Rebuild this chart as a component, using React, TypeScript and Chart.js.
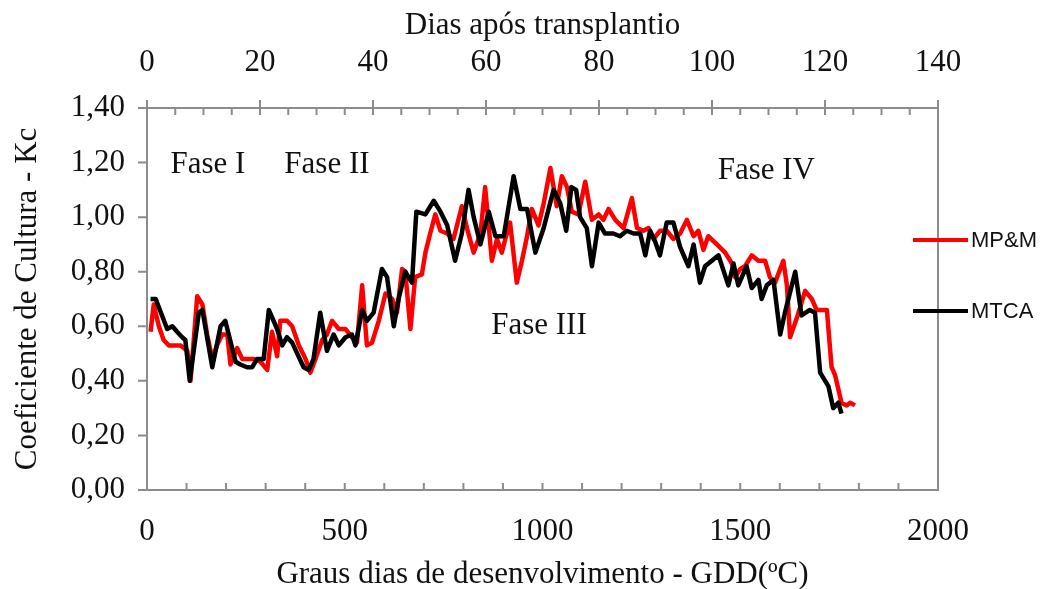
import React, { useEffect, useRef } from 'react';
import { Chart, registerables } from 'chart.js';

Chart.register(...registerables);

// ---- Data ----
const seriesNames = ['MP&M', 'MTCA'];

const mpmGdd = [
  9, 17, 30, 42, 55, 85, 102, 110, 127, 140,
  152, 165, 177, 190, 203, 211, 228, 241, 253, 270,
  287, 304, 316, 329, 337, 354, 367, 384, 401, 413,
  426, 443, 455, 468, 485, 502, 518, 531, 544, 556,
  569, 586, 603, 620, 632, 645, 653, 666, 678, 695,
  704, 716, 729, 742, 759, 775, 796, 809, 826, 843,
  855, 872, 885, 897, 906, 918, 935, 948, 961, 973,
  990, 1003, 1020, 1036, 1049, 1062, 1074, 1091, 1108, 1125,
  1142, 1154, 1167, 1184, 1205, 1226, 1239, 1255, 1268, 1281,
  1297, 1314, 1331, 1348, 1365, 1382, 1394, 1407, 1419, 1441,
  1462, 1479, 1487, 1500, 1512, 1529, 1546, 1563, 1575, 1588,
  1609, 1618, 1626, 1643, 1664, 1681, 1693, 1719, 1731, 1740,
  1756, 1769, 1778, 1790,
];
const mpmKc = [
  0.58, 0.68, 0.60, 0.55, 0.53, 0.53, 0.51, 0.40, 0.71, 0.68,
  0.57, 0.48, 0.53, 0.57, 0.57, 0.46, 0.52, 0.48, 0.48, 0.48,
  0.47, 0.44, 0.58, 0.49, 0.62, 0.62, 0.60, 0.53, 0.48, 0.43,
  0.48, 0.55, 0.57, 0.62, 0.59, 0.59, 0.56, 0.54, 0.75, 0.53,
  0.54, 0.62, 0.72, 0.70, 0.65, 0.81, 0.80, 0.59, 0.78, 0.79,
  0.87, 0.94, 1.01, 0.95, 0.94, 0.92, 1.04, 0.96, 0.87, 0.94,
  1.11, 0.84, 0.92, 0.87, 0.92, 0.98, 0.76, 0.84, 0.93, 1.03,
  0.97, 1.05, 1.18, 1.04, 1.15, 1.11, 1.02, 1.01, 1.13, 0.99,
  1.01, 0.99, 1.03, 0.99, 0.96, 1.07, 0.96, 0.95, 0.96, 0.92,
  0.95, 0.95, 0.92, 0.94, 0.99, 0.93, 0.95, 0.88, 0.93, 0.90,
  0.87, 0.83, 0.78, 0.81, 0.82, 0.86, 0.84, 0.84, 0.78, 0.76,
  0.84, 0.75, 0.56, 0.63, 0.73, 0.70, 0.66, 0.66, 0.45, 0.42,
  0.32, 0.31, 0.32, 0.31,
];

const mtcaGdd = [
  9, 22, 51, 64, 76, 89, 97, 108, 131, 140,
  165, 186, 198, 224, 236, 253, 266, 278, 295, 308,
  329, 342, 354, 367, 396, 409, 421, 438, 455, 472,
  485, 502, 518, 527, 544, 556, 573, 594, 607, 624,
  636, 653, 670, 681, 704, 725, 742, 759, 779, 796,
  813, 826, 843, 864, 881, 902, 927, 944, 961, 982,
  1003, 1028, 1045, 1060, 1073, 1085, 1095, 1112, 1125, 1142,
  1158, 1179, 1196, 1213, 1230, 1247, 1260, 1272, 1285, 1297,
  1314, 1331, 1348, 1369, 1382, 1398, 1411, 1428, 1445, 1470,
  1483, 1495, 1516, 1529, 1546, 1554, 1567, 1584, 1601, 1613,
  1639, 1655, 1676, 1689, 1702, 1723, 1735, 1748, 1756,
];
const mtcaKc = [
  0.70, 0.70, 0.59, 0.60, 0.58, 0.56, 0.55, 0.40, 0.65, 0.66,
  0.45, 0.60, 0.62, 0.47, 0.46, 0.45, 0.45, 0.48, 0.48, 0.66,
  0.59, 0.53, 0.56, 0.54, 0.45, 0.44, 0.48, 0.65, 0.51, 0.57,
  0.53, 0.56, 0.57, 0.53, 0.66, 0.62, 0.65, 0.81, 0.78, 0.60,
  0.70, 0.80, 0.76, 1.02, 1.01, 1.06, 1.02, 0.97, 0.84, 0.94,
  1.10, 1.00, 0.90, 1.02, 0.93, 0.93, 1.15, 1.03, 1.03, 0.87,
  0.96, 1.10, 1.05, 0.95, 1.11, 1.10, 1.00, 0.96, 0.82, 0.98,
  0.94, 0.94, 0.93, 0.95, 0.94, 0.94, 0.86, 0.95, 0.91, 0.86,
  0.98, 0.98, 0.89, 0.82, 0.90, 0.76, 0.82, 0.84, 0.86, 0.75,
  0.83, 0.75, 0.82, 0.74, 0.77, 0.70, 0.75, 0.77, 0.57, 0.65,
  0.80, 0.64, 0.66, 0.65, 0.43, 0.38, 0.30, 0.32, 0.28,
];

const phaseLabels = ['Fase I', 'Fase II', 'Fase III', 'Fase IV'];
const phaseGdd = [154, 455, 991, 1566];
const phaseKc = [1.19, 1.19, 0.60, 1.17];

const xTitle = 'Graus dias de desenvolvimento - GDD(ºC)';
const x2Title = 'Dias após transplantio';
const yTitle = 'Coeficiente de Cultura - Kc';

// ---- Styles ----
const SERIF = "'Liberation Serif', 'Times New Roman', serif";
const SANS = "'Liberation Sans', Arial, sans-serif";
const RED = '#ff0000';
const BLACK = '#000000';
const AXIS = '#8c8c8c';
const TEXT = '#111111';

const decorPlugin = {
  id: 'decor',
  beforeDatasetsDraw(chart: any) {
    const { ctx, chartArea: a, scales } = chart;
    const xs = scales.x;
    const xt = scales.x2;
    const ys = scales.y;
    ctx.save();
    ctx.strokeStyle = AXIS;
    ctx.lineWidth = 2;
    ctx.beginPath();
    ctx.rect(a.left, a.top, a.right - a.left, a.bottom - a.top);
    for (let v = 0; v <= 2000; v += 100) {
      const px = xs.getPixelForValue(v);
      ctx.moveTo(px, a.bottom);
      ctx.lineTo(px, a.bottom - 7);
    }
    for (let d = 0; d <= 140; d += 5) {
      const px = xt.getPixelForValue(d);
      const major = d % 20 === 0;
      ctx.moveTo(px, major ? a.top - 8 : a.top);
      ctx.lineTo(px, a.top + 7);
    }
    for (let k = 0; k <= 7; k++) {
      const py = ys.getPixelForValue(k * 0.2);
      ctx.moveTo(a.left - 9, py);
      ctx.lineTo(a.left, py);
    }
    ctx.stroke();
    ctx.restore();
  },
  afterDraw(chart: any) {
    const { ctx, chartArea: a, scales } = chart;
    const xs = scales.x;
    const ys = scales.y;
    ctx.save();
    // phase labels
    ctx.fillStyle = TEXT;
    ctx.font = `31px ${SERIF}`;
    ctx.textAlign = 'center';
    ctx.textBaseline = 'middle';
    phaseLabels.forEach((t, i) => {
      ctx.fillText(t, xs.getPixelForValue(phaseGdd[i]), ys.getPixelForValue(phaseKc[i]));
    });
    // legend
    const ds = chart.data.datasets;
    const legendY = [240, 311];
    ds.forEach((d: any) => {
      const idx = seriesNames.indexOf(d.label);
      const y = legendY[idx];
      ctx.strokeStyle = d.borderColor;
      ctx.lineWidth = 4;
      ctx.beginPath();
      ctx.moveTo(a.right - 25, y);
      ctx.lineTo(a.right + 30, y);
      ctx.stroke();
      ctx.fillStyle = TEXT;
      ctx.font = `22px ${SANS}`;
      ctx.textAlign = 'left';
      ctx.textBaseline = 'middle';
      ctx.fillText(d.label, a.right + 33, y + 1);
    });
    ctx.restore();
  },
};

export default function App() {
  const ref = useRef<HTMLCanvasElement>(null);
  useEffect(() => {
    const toPts = (xs: number[], ys: number[]) => xs.map((x, i) => ({ x, y: ys[i] }));
    const chart = new Chart(ref.current as HTMLCanvasElement, {
      type: 'line',
      data: {
        datasets: [
          {
            label: seriesNames[0],
            data: toPts(mpmGdd, mpmKc),
            borderColor: RED,
            backgroundColor: RED,
            borderWidth: 4.5,
            pointRadius: 0,
            tension: 0,
            borderJoinStyle: 'round',
            xAxisID: 'x',
            yAxisID: 'y',
            order: 2,
          },
          {
            label: seriesNames[1],
            data: toPts(mtcaGdd, mtcaKc),
            borderColor: BLACK,
            backgroundColor: BLACK,
            borderWidth: 4.5,
            pointRadius: 0,
            tension: 0,
            borderJoinStyle: 'round',
            xAxisID: 'x',
            yAxisID: 'y',
            order: 1,
          },
        ],
      },
      options: {
        animation: false,
        responsive: false,
        layout: { padding: { left: 0, right: 109, top: 0, bottom: 0 } },
        plugins: { legend: { display: false }, tooltip: { enabled: false } },
        scales: {
          x: {
            type: 'linear',
            position: 'bottom',
            min: 0,
            max: 2000,
            grid: { display: false, drawTicks: false },
            border: { display: false },
            ticks: {
              stepSize: 500,
              padding: 26,
              color: TEXT,
              maxRotation: 0,
              autoSkip: false,
              font: { family: SERIF, size: 31, lineHeight: 1 },
              callback: (v: any) => String(Math.round(Number(v))),
            },
            title: {
              display: true,
              text: xTitle,
              color: TEXT,
              font: { family: SERIF, size: 31, lineHeight: 0.9 },
              padding: { top: 0, bottom: 0 },
            },
            afterFit: (s: any) => {
              s.height = 99;
            },
          },
          x2: {
            type: 'linear',
            position: 'top',
            min: 0,
            max: 140,
            grid: { display: false, drawTicks: false },
            border: { display: false },
            ticks: {
              stepSize: 20,
              padding: 30,
              color: TEXT,
              maxRotation: 0,
              autoSkip: false,
              font: { family: SERIF, size: 31, lineHeight: 1 },
              callback: (v: any) => String(Math.round(Number(v))),
            },
            title: {
              display: true,
              text: x2Title,
              color: TEXT,
              font: { family: SERIF, size: 31, lineHeight: 0.9 },
              padding: { top: 12, bottom: 0 },
            },
            afterFit: (s: any) => {
              s.height = 108;
            },
          },
          y: {
            type: 'linear',
            position: 'left',
            min: 0,
            max: 1.4,
            grid: { display: false, drawTicks: false },
            border: { display: false },
            ticks: {
              stepSize: 0.2,
              padding: 22,
              color: TEXT,
              font: { family: SERIF, size: 31, lineHeight: 1 },
              callback: (v: any) => Number(v).toFixed(2).replace('.', ','),
            },
            title: {
              display: true,
              text: yTitle,
              color: TEXT,
              font: { family: SERIF, size: 31, lineHeight: 0.9 },
              padding: { top: 14, bottom: 0 },
            },
            afterFit: (s: any) => {
              s.width = 147;
            },
          },
        },
      } as any,
      plugins: [decorPlugin],
    });
    return () => chart.destroy();
  }, []);

  return (
    <div style={{ position: 'fixed', left: 0, top: 0, width: 1047, height: 589, background: '#fff' }}>
      <canvas ref={ref} width={1047} height={589} style={{ display: 'block' }} />
    </div>
  );
}
